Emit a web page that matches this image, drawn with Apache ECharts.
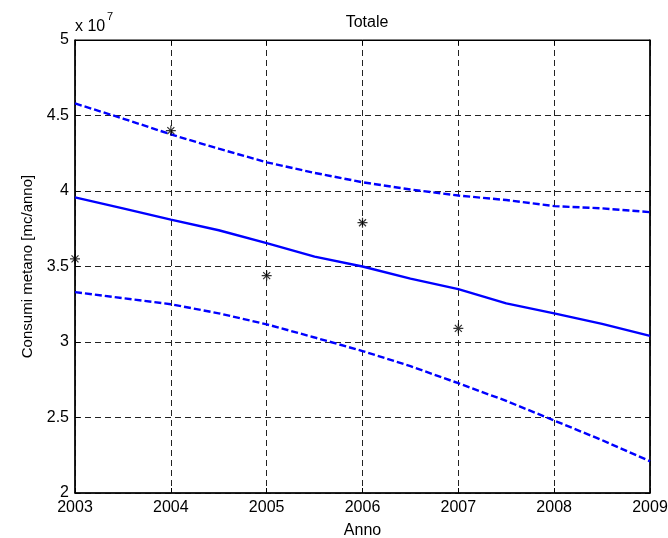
<!DOCTYPE html>
<html>
<head>
<meta charset="utf-8">
<script src="https://cdn.jsdelivr.net/npm/echarts@6/dist/echarts.min.js"></script>
<style>
html,body{margin:0;padding:0;background:#fff;}
#c{width:668px;height:538px;}
</style>
</head>
<body>
<div id="c"></div>
<script>
// values in units of 10^7 mc/anno
const years = [2003, 2003.5, 2004, 2004.5, 2005, 2005.5, 2006, 2006.5, 2007, 2007.5, 2008, 2008.5, 2009];
const trend = [3.958, 3.885, 3.81, 3.74, 3.655, 3.565, 3.50, 3.42, 3.35, 3.256, 3.19, 3.12, 3.04];
const upper = [4.58, 4.48, 4.375, 4.28, 4.19, 4.12, 4.058, 4.01, 3.97, 3.94, 3.90, 3.885, 3.86];
const lower = [3.33, 3.29, 3.25, 3.19, 3.117, 3.03, 2.94, 2.84, 2.727, 2.61, 2.48, 2.35, 2.21];
const obsYears = [2003, 2004, 2005, 2006, 2007];
const observed = [3.55, 4.40, 3.44, 3.79, 3.09];
const xTicks = [2003, 2004, 2005, 2006, 2007, 2008, 2009];
const yTicks = [2, 2.5, 3, 3.5, 4, 4.5, 5];

const pair = (xs, ys) => xs.map((x, i) => [x, ys[i]]);
const font = 'Liberation Sans, Arial, Helvetica, sans-serif';
const chart = echarts.init(document.getElementById('c'), null, {renderer: 'canvas'});

const gridLine = {show: true, lineStyle: {color: '#222', width: 1, type: [6, 4]}};
const tickIn = {show: true, inside: true, length: 5, lineStyle: {color: '#000', width: 1}};

chart.setOption({
  animation: false,
  backgroundColor: '#fff',
  title: {
    text: 'Totale', left: 362, top: 10, textAlign: 'center',
    textStyle: {fontFamily: font, fontSize: 16, fontWeight: 'normal', color: '#000'}
  },
  graphic: [{
    type: 'text', z: 10,
    style: {x: 75, y: 27, text: 'x 10', font: '16px ' + font, fill: '#000', verticalAlign: 'middle', align: 'left'}
  }, {
    type: 'text', z: 10,
    style: {x: 107, y: 17, text: '7', font: '11px ' + font, fill: '#000', verticalAlign: 'middle', align: 'left'}
  }],
  grid: {left: 75, right: 18, top: 40, bottom: 45, containLabel: false, outerBoundsMode: 'none',
    show: true, borderColor: '#000', borderWidth: 1, backgroundColor: 'transparent'},
  xAxis: [{
    type: 'value', min: 2003, max: 2009, interval: 1, position: 'bottom',
    name: 'Anno', nameLocation: 'middle', nameGap: 30,
    nameTextStyle: {fontFamily: font, fontSize: 16, color: '#000'},
    axisLine: {show: true, lineStyle: {color: '#000', width: 1.5}},
    axisTick: tickIn,
    axisLabel: {fontFamily: font, fontSize: 16, color: '#000', margin: 7, formatter: v => String(v)},
    splitLine: gridLine
  }, {
    type: 'value', min: 2003, max: 2009, interval: 1, position: 'top',
    axisLine: {show: true, lineStyle: {color: '#000', width: 1}},
    axisTick: tickIn, axisLabel: {show: false}, splitLine: {show: false}
  }],
  yAxis: [{
    type: 'value', min: 2, max: 5, interval: 0.5, position: 'left',
    name: 'Consumi metano [mc/anno]', nameLocation: 'middle', nameGap: 35, nameRotate: 90,
    nameTextStyle: {fontFamily: font, fontSize: 15, color: '#000'},
    axisLine: {show: true, lineStyle: {color: '#000', width: 1.5}},
    axisTick: tickIn,
    axisLabel: {fontFamily: font, fontSize: 16, color: '#000', margin: 6, formatter: v => String(v)},
    splitLine: gridLine
  }, {
    type: 'value', min: 2, max: 5, interval: 0.5, position: 'right',
    axisLine: {show: true, lineStyle: {color: '#000', width: 1.5}},
    axisTick: tickIn, axisLabel: {show: false}, splitLine: {show: false}
  }],
  series: [{
    type: 'line', data: pair(years, upper), showSymbol: false, smooth: false,
    lineStyle: {color: '#0000ff', width: 2.4, type: [7, 3]}
  }, {
    type: 'line', data: pair(years, trend), showSymbol: false, smooth: false,
    lineStyle: {color: '#0000ff', width: 2.4}
  }, {
    type: 'line', data: pair(years, lower), showSymbol: false, smooth: false,
    lineStyle: {color: '#0000ff', width: 2.4, type: [7, 3]}
  }, {
    type: 'scatter', data: pair(obsYears, observed), z: 5,
    symbol: 'path://M0,-5L0,5M-5,0L5,0M-3.5,-3.5L3.5,3.5M-3.5,3.5L3.5,-3.5',
    symbolSize: 10,
    itemStyle: {color: 'transparent', borderColor: '#000', borderWidth: 1.2}
  }]
});
</script>
</body>
</html>
